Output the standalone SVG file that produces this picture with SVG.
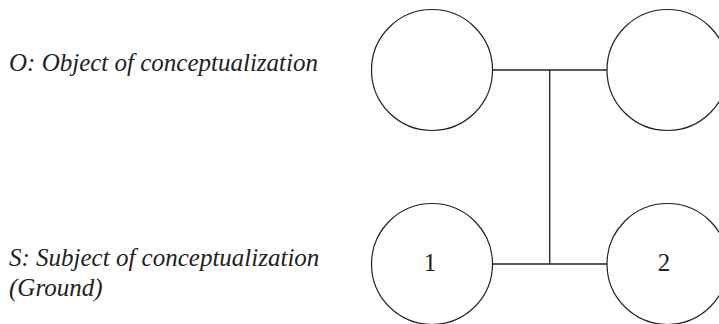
<svg xmlns="http://www.w3.org/2000/svg" width="719" height="324" viewBox="0 0 719 324">
<style>
.c{fill:#fff;stroke:#222;stroke-width:1.2}
.l{fill:none;stroke:#222;stroke-width:1.3}
.t{font-family:"Liberation Serif","Times New Roman",serif;font-style:italic;font-size:25px;fill:#222}
.n{font-family:"Liberation Serif","Times New Roman",serif;font-size:25px;fill:#222;text-anchor:middle}
</style>
<rect width="719" height="324" fill="#fff"/>
<g id="labels">
<text class="t" x="9" y="71">O: Object of conceptualization</text>
<text class="t" x="9" y="266">S: Subject of conceptualization</text>
<text class="t" x="9" y="296">(Ground)</text>
</g>
<g id="connectors">
<line class="l" x1="492.5" y1="70" x2="607" y2="70"/>
<line class="l" x1="492.5" y1="264" x2="607" y2="264"/>
<line class="l" x1="549.7" y1="70" x2="549.7" y2="264"/>
</g>
<g id="o1"><circle class="c" cx="432" cy="70" r="60.5"/></g>
<g id="o2"><circle class="c" cx="667.5" cy="70" r="60.5"/></g>
<g id="s1"><circle class="c" cx="432" cy="264" r="60.5"/><text class="n" x="430" y="271">1</text></g>
<g id="s2"><circle class="c" cx="667.5" cy="264" r="60.5"/><text class="n" x="664" y="271">2</text></g>
</svg>
